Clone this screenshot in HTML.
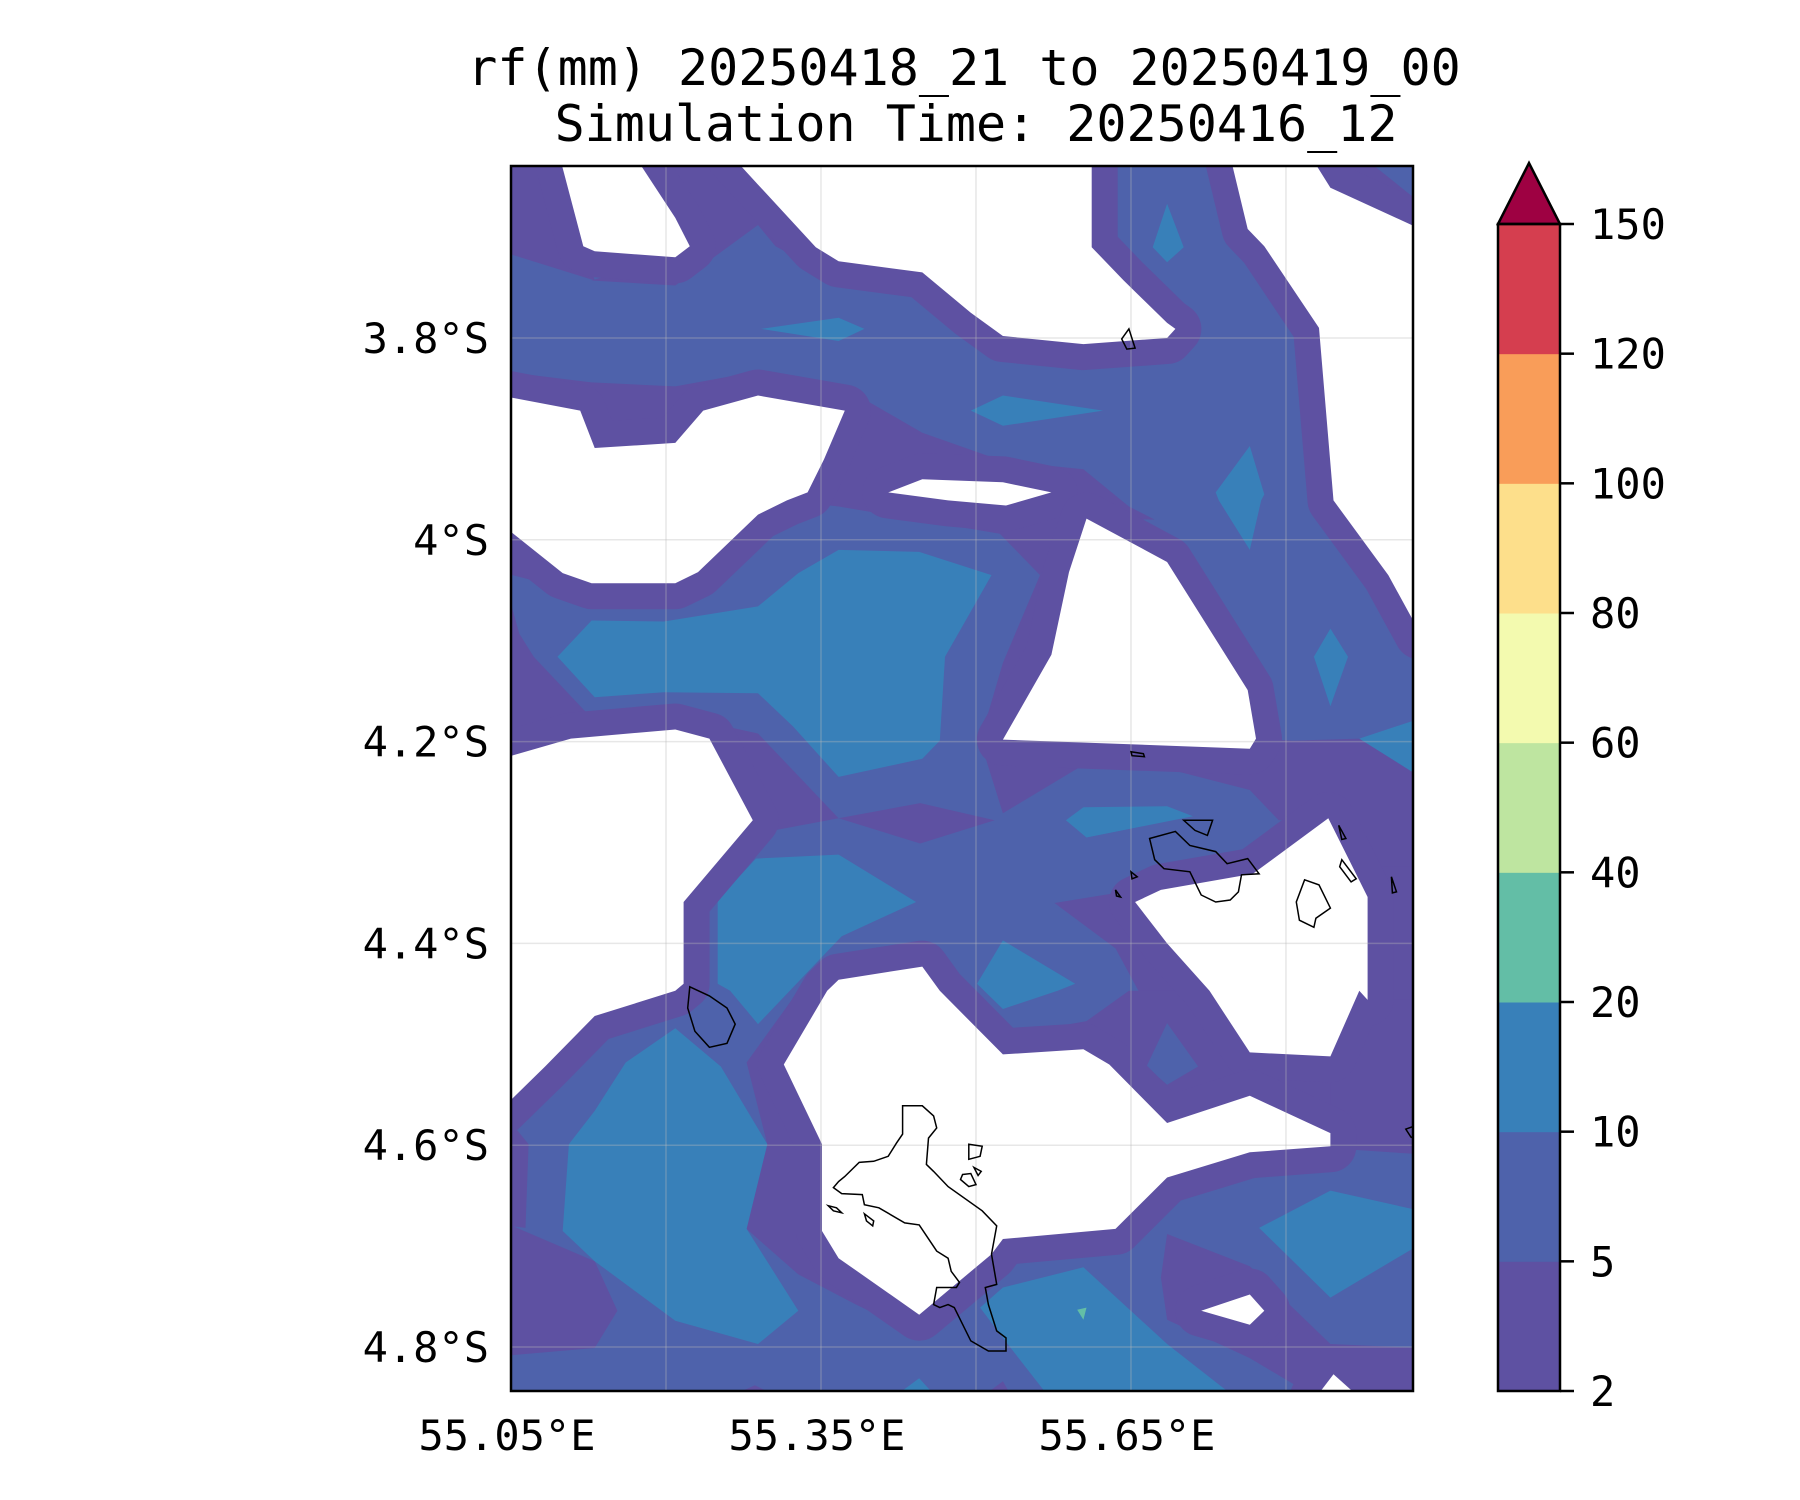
<!DOCTYPE html>
<html><head><meta charset="utf-8"><title>rf(mm) rainfall map</title>
<style>
html,body{margin:0;padding:0;background:#fff;}
svg{display:block;}
text{font-family:"DejaVu Sans Mono","Liberation Mono",monospace;fill:#000;}
</style></head>
<body>
<svg id="chart" xmlns="http://www.w3.org/2000/svg" width="1800" height="1500" viewBox="0 0 1800 1500">
  <rect x="0" y="0" width="1800" height="1500" fill="#fff"/>
  <text x="964" y="85" font-size="50" text-anchor="middle">rf(mm) 20250418_21 to 20250419_00</text>
  <text x="976" y="141" font-size="50" text-anchor="middle">Simulation Time: 20250416_12</text>
  <defs><clipPath id="plotclip"><rect x="511" y="166" width="902" height="1225"/></clipPath></defs>
  <g id="plot" clip-path="url(#plotclip)"></g>
  <rect x="511" y="166" width="902" height="1225" fill="none" stroke="#000" stroke-width="2.5"/>
  <g id="axes"></g>
  <g id="cbar"></g>
</svg>
<script>
// ---------- data ----------
const lonTicks = [55.05, 55.35, 55.65];
const lonTickLabels = ["55.05°E", "55.35°E", "55.65°E"];
const lonGrid = [55.05, 55.20, 55.35, 55.50, 55.65, 55.80];
const latTicks = [-3.8, -4.0, -4.2, -4.4, -4.6, -4.8];
const latTickLabels = ["3.8°S", "4°S", "4.2°S", "4.4°S", "4.6°S", "4.8°S"];
const cbLevels = [2, 5, 10, 20, 40, 60, 80, 100, 120, 150];
const cbColors = ["#5e51a2", "#4e62ab", "#3880b9", "#63bea6", "#bee5a0", "#f3faaf", "#fddf8b", "#f99d59", "#d53e4f"];
const cbExtendColor = "#9e0142";
const levelColors = ["#5e51a2", "#4e62ab", "#3880b9", "#63bea6"];

// 2-5 mm regions (lon, lat)
const level1Patches = [
 [[55.04,-3.62],[55.100,-3.62],[55.122,-3.712],[55.131,-3.743],[55.04,-3.714]],
 [[55.170,-3.62],[55.264,-3.62],[55.289,-3.648],[55.345,-3.710],[55.367,-3.743],[55.306,-3.709],[55.289,-3.688],[55.209,-3.748],[55.128,-3.743],[55.217,-3.715]],
 [[55.04,-3.833],[55.128,-3.844],[55.209,-3.848],[55.289,-3.833],[55.367,-3.846],[55.448,-3.894],[55.526,-3.922],[55.604,-3.930],[55.648,-3.967],[55.673,-3.980],[55.607,-3.979],[55.562,-4.035],[55.523,-3.994],[55.367,-3.967],[55.317,-3.961],[55.289,-3.975],[55.231,-4.032],[55.209,-4.056],[55.131,-4.056],[55.04,-4.032]],
 [[55.824,-3.62],[55.874,-3.62],[55.93,-3.666],[55.93,-3.692],[55.843,-3.651]],
 [[55.04,-4.027],[55.058,-4.093],[55.072,-4.116],[55.131,-4.180],[55.209,-4.174],[55.289,-4.192],[55.367,-4.276],[55.289,-4.291],[55.234,-4.350],[55.217,-4.359],[55.04,-4.359]],
 [[55.367,-4.276],[55.446,-4.261],[55.518,-4.278],[55.446,-4.301]],
 [[55.562,-4.035],[55.526,-4.122],[55.504,-4.199],[55.526,-4.271],[55.601,-4.225],[55.685,-4.227],[55.765,-4.248],[55.793,-4.278],[55.841,-4.276],[55.879,-4.354],[55.93,-4.357],[55.93,-4.235],[55.871,-4.197],[55.807,-4.199],[55.771,-4.197],[55.763,-4.149],[55.685,-4.022],[55.607,-3.979]],
 [[55.576,-4.360],[55.654,-4.347],[55.685,-4.400],[55.726,-4.456],[55.662,-4.456],[55.635,-4.405]],
 [[55.04,-4.675],[55.131,-4.715],[55.153,-4.764],[55.131,-4.801],[55.04,-4.809]],
 [[55.04,-4.565],[55.067,-4.599],[55.064,-4.682],[55.04,-4.679]],
 [[55.356,-4.447],[55.314,-4.520],[55.351,-4.599],[55.351,-4.685],[55.367,-4.712],[55.445,-4.768],[55.451,-4.791],[55.384,-4.758],[55.328,-4.728],[55.278,-4.683],[55.298,-4.599],[55.278,-4.518],[55.328,-4.447]],
 [[55.685,-4.688],[55.765,-4.720],[55.843,-4.797],[55.93,-4.801],[55.93,-4.85],[55.829,-4.85],[55.765,-4.811],[55.685,-4.773],[55.679,-4.731]],
 [[55.841,-4.447],[55.93,-4.447],[55.93,-4.609],[55.843,-4.603]],
 [[55.526,-4.492],[55.607,-4.477],[55.648,-4.447],[55.726,-4.447],[55.765,-4.508],[55.843,-4.512],[55.843,-4.589],[55.765,-4.551],[55.685,-4.578],[55.629,-4.520],[55.604,-4.505],[55.526,-4.510]],
 [[55.879,-4.324],[55.93,-4.324],[55.93,-4.456],[55.879,-4.456]],
 [[55.26,-4.85],[55.286,-4.838],[55.31,-4.85]],
 [[55.505,-4.85],[55.526,-4.834],[55.535,-4.85]]
];
// 5-10 mm regions drawn over 2-5 regions
const level2Patches = [
 [[55.665,-4.522],[55.685,-4.479],[55.715,-4.522],[55.685,-4.540]]
];
// 10-20 mm regions
const level3Patches = [
 [[55.292,-3.791],[55.367,-3.780],[55.392,-3.791],[55.367,-3.803]],
 [[55.495,-3.872],[55.526,-3.857],[55.623,-3.872],[55.526,-3.887]],
 [[55.671,-3.710],[55.685,-3.667],[55.701,-3.710],[55.685,-3.725]],
 [[55.732,-3.953],[55.765,-3.907],[55.779,-3.955],[55.776,-3.961],[55.765,-4.010],[55.735,-3.961]],
 [[55.095,-4.116],[55.128,-4.080],[55.198,-4.081],[55.289,-4.066],[55.328,-4.033],[55.367,-4.010],[55.445,-4.012],[55.515,-4.035],[55.470,-4.116],[55.465,-4.199],[55.448,-4.217],[55.367,-4.235],[55.323,-4.185],[55.289,-4.152],[55.198,-4.151],[55.131,-4.156]],
 [[55.250,-4.357],[55.287,-4.316],[55.367,-4.312],[55.442,-4.359],[55.370,-4.393],[55.289,-4.480],[55.262,-4.447],[55.250,-4.440]],
 [[55.587,-4.278],[55.604,-4.265],[55.685,-4.264],[55.710,-4.274],[55.607,-4.295]],
 [[55.526,-4.397],[55.596,-4.440],[55.579,-4.447],[55.526,-4.465],[55.501,-4.440]],
 [[55.827,-4.116],[55.843,-4.088],[55.860,-4.116],[55.843,-4.165]],
 [[55.871,-4.197],[55.93,-4.177],[55.93,-4.235]],
 [[55.100,-4.685],[55.106,-4.599],[55.131,-4.566],[55.161,-4.518],[55.209,-4.484],[55.253,-4.522],[55.298,-4.599],[55.278,-4.683],[55.328,-4.764],[55.289,-4.797],[55.209,-4.774],[55.131,-4.715]],
 [[55.504,-4.761],[55.526,-4.741],[55.604,-4.721],[55.685,-4.797],[55.751,-4.85],[55.571,-4.85],[55.526,-4.791]],
 [[55.774,-4.682],[55.843,-4.645],[55.93,-4.665],[55.93,-4.698],[55.843,-4.751]],
 [[55.42,-4.85],[55.445,-4.831],[55.462,-4.85]]
];
// 20-40 mm regions
const level4Patches = [
 [[55.598,-4.763],[55.607,-4.761],[55.604,-4.773]]
];
// below 2 mm (blank) regions
const dryHoles = [
 [[55.097,-3.62],[55.120,-3.709],[55.131,-3.714],[55.209,-3.720],[55.223,-3.709],[55.209,-3.681],[55.170,-3.62]],
 [[55.264,-3.62],[55.289,-3.648],[55.345,-3.710],[55.367,-3.724],[55.448,-3.735],[55.495,-3.775],[55.526,-3.798],[55.604,-3.806],[55.685,-3.800],[55.693,-3.791],[55.685,-3.785],[55.643,-3.743],[55.612,-3.710],[55.612,-3.62]],
 [[55.746,-3.62],[55.824,-3.62],[55.843,-3.651],[55.93,-3.692],[55.93,-4.093],[55.899,-4.035],[55.846,-3.961],[55.832,-3.790],[55.779,-3.709],[55.763,-3.692]],
 [[55.04,-3.857],[55.117,-3.872],[55.131,-3.909],[55.209,-3.904],[55.236,-3.872],[55.289,-3.857],[55.373,-3.872],[55.353,-3.920],[55.337,-3.953],[55.317,-3.961],[55.289,-3.975],[55.231,-4.032],[55.209,-4.043],[55.128,-4.043],[55.100,-4.033],[55.04,-3.984]],
 [[55.415,-3.953],[55.448,-3.940],[55.526,-3.943],[55.573,-3.953],[55.529,-3.966],[55.473,-3.961]],
 [[55.607,-3.979],[55.685,-4.022],[55.763,-4.149],[55.771,-4.197],[55.765,-4.207],[55.526,-4.198],[55.573,-4.114],[55.590,-4.032]],
 [[55.04,-4.217],[55.108,-4.197],[55.209,-4.188],[55.242,-4.197],[55.284,-4.278],[55.217,-4.359],[55.217,-4.440],[55.209,-4.447],[55.131,-4.472],[55.083,-4.522],[55.04,-4.565]],
 [[55.654,-4.359],[55.679,-4.347],[55.768,-4.331],[55.841,-4.276],[55.879,-4.354],[55.879,-4.456],[55.871,-4.447],[55.843,-4.512],[55.765,-4.508],[55.726,-4.447],[55.685,-4.400]],
 [[55.367,-4.436],[55.448,-4.423],[55.465,-4.447],[55.526,-4.510],[55.604,-4.505],[55.629,-4.520],[55.685,-4.578],[55.765,-4.551],[55.843,-4.588],[55.843,-4.601],[55.765,-4.607],[55.685,-4.632],[55.635,-4.683],[55.526,-4.693],[55.515,-4.708],[55.445,-4.768],[55.367,-4.712],[55.351,-4.685],[55.351,-4.599],[55.314,-4.520],[55.356,-4.447]],
 [[55.718,-4.764],[55.765,-4.748],[55.779,-4.764],[55.765,-4.778]],
 [[55.829,-4.85],[55.846,-4.827],[55.871,-4.85]]
];
const coastlines = [
 [[55.429,-4.561],[55.448,-4.561],[55.459,-4.571],[55.462,-4.583],[55.454,-4.593],[55.452,-4.619],[55.459,-4.626],[55.473,-4.641],[55.506,-4.665],[55.520,-4.680],[55.515,-4.708],[55.520,-4.738],[55.509,-4.741],[55.512,-4.758],[55.520,-4.784],[55.529,-4.791],[55.529,-4.804],[55.512,-4.804],[55.495,-4.794],[55.479,-4.761],[55.473,-4.758],[55.465,-4.761],[55.459,-4.758],[55.462,-4.741],[55.481,-4.741],[55.484,-4.736],[55.476,-4.725],[55.473,-4.712],[55.462,-4.705],[55.445,-4.679],[55.431,-4.677],[55.406,-4.662],[55.392,-4.659],[55.390,-4.649],[55.370,-4.648],[55.362,-4.642],[55.367,-4.636],[55.373,-4.631],[55.387,-4.617],[55.401,-4.616],[55.415,-4.611],[55.423,-4.598],[55.429,-4.589]],
 [[55.493,-4.599],[55.506,-4.601],[55.504,-4.611],[55.493,-4.614]],
 [[55.487,-4.629],[55.495,-4.628],[55.500,-4.639],[55.493,-4.641],[55.485,-4.634]],
 [[55.498,-4.622],[55.505,-4.626],[55.502,-4.630]],
 [[55.357,-4.660],[55.365,-4.662],[55.370,-4.667],[55.362,-4.665]],
 [[55.392,-4.668],[55.401,-4.675],[55.400,-4.680],[55.394,-4.675]],
 [[55.223,-4.443],[55.242,-4.452],[55.259,-4.464],[55.267,-4.480],[55.259,-4.499],[55.242,-4.503],[55.228,-4.487],[55.221,-4.464]],
 [[55.668,-4.296],[55.693,-4.289],[55.707,-4.303],[55.732,-4.309],[55.743,-4.321],[55.763,-4.316],[55.774,-4.331],[55.757,-4.332],[55.754,-4.349],[55.746,-4.357],[55.732,-4.359],[55.718,-4.352],[55.707,-4.329],[55.682,-4.326],[55.673,-4.317]],
 [[55.701,-4.278],[55.729,-4.278],[55.724,-4.293],[55.712,-4.288]],
 [[55.851,-4.283],[55.858,-4.296],[55.854,-4.297]],
 [[55.854,-4.317],[55.868,-4.336],[55.863,-4.339],[55.852,-4.324]],
 [[55.818,-4.337],[55.832,-4.342],[55.843,-4.365],[55.829,-4.375],[55.827,-4.384],[55.813,-4.377],[55.810,-4.359]],
 [[55.902,-4.334],[55.907,-4.349],[55.903,-4.350]],
 [[55.650,-4.329],[55.656,-4.334],[55.651,-4.336]],
 [[55.635,-4.347],[55.640,-4.354],[55.636,-4.353]],
 [[55.650,-4.210],[55.662,-4.212],[55.663,-4.215],[55.651,-4.214]],
 [[55.93,-4.579],[55.916,-4.584],[55.921,-4.592],[55.93,-4.596]],
 [[55.648,-3.791],[55.654,-3.810],[55.646,-3.811],[55.641,-3.801]]
];

// ---------- axis functions ----------
const PX0 = 511, PX1 = 1413, PY0 = 166, PY1 = 1391;
function xOf(lon){ return PX0 + (lon - 55.05) * 1033.3; }
function yOf(lat){ return 338 + (-lat - 3.8) * 1009; }
const CB_X = 1498, CB_W = 62, CB_TOP = 224, CB_BOT = 1391;
function cbY(i){ return CB_BOT - i * (CB_BOT - CB_TOP) / (cbLevels.length - 1); }

const NS = "http://www.w3.org/2000/svg";
function mk(tag, parent){ const e = document.createElementNS(NS, tag); parent.appendChild(e); return e; }
function pts(poly){ return poly.map(p => xOf(p[0]).toFixed(1) + "," + yOf(p[1]).toFixed(1)).join(" "); }

const plot = document.getElementById("plot");
const base = mk("rect", plot);
base.setAttribute("x", PX0); base.setAttribute("y", PY0);
base.setAttribute("width", PX1 - PX0); base.setAttribute("height", PY1 - PY0);
base.setAttribute("fill", levelColors[1]);



level1Patches.forEach(function(poly){
  const e = mk("polygon", plot);
  e.setAttribute("points", pts(poly)); e.setAttribute("fill", levelColors[0]);
  
  
});
level2Patches.forEach(function(poly){
  const e = mk("polygon", plot);
  e.setAttribute("points", pts(poly)); e.setAttribute("fill", levelColors[1]);
  
  
});
level3Patches.forEach(function(poly){
  const e = mk("polygon", plot);
  e.setAttribute("points", pts(poly)); e.setAttribute("fill", levelColors[2]);
  
  
});
level4Patches.forEach(function(poly){
  const e = mk("polygon", plot);
  e.setAttribute("points", pts(poly)); e.setAttribute("fill", levelColors[3]);
  
  
});
dryHoles.forEach(function(poly){
  const e = mk("polygon", plot);
  e.setAttribute("points", pts(poly)); e.setAttribute("fill", "none");
  e.setAttribute("stroke", levelColors[0]); e.setAttribute("stroke-width", "52"); e.setAttribute("stroke-linejoin", "round");
  
  
});
dryHoles.forEach(function(poly){
  const e = mk("polygon", plot);
  e.setAttribute("points", pts(poly)); e.setAttribute("fill", "#fff");
  
  
});
lonGrid.forEach(function(lon){
  const e = mk("line", plot);
  e.setAttribute("x1", xOf(lon)); e.setAttribute("x2", xOf(lon)); e.setAttribute("y1", PY0); e.setAttribute("y2", PY1);
  e.setAttribute("stroke", "#bbb"); e.setAttribute("stroke-opacity", "0.35"); e.setAttribute("stroke-width", "1.5");
  
  
});
latTicks.forEach(function(lat){
  const e = mk("line", plot);
  e.setAttribute("x1", PX0); e.setAttribute("x2", PX1); e.setAttribute("y1", yOf(lat)); e.setAttribute("y2", yOf(lat));
  e.setAttribute("stroke", "#bbb"); e.setAttribute("stroke-opacity", "0.35"); e.setAttribute("stroke-width", "1.5");
  
  
});
coastlines.forEach(function(poly){
  const e = mk("polygon", plot);
  e.setAttribute("points", pts(poly)); e.setAttribute("fill", "none");
  e.setAttribute("stroke", "#000"); e.setAttribute("stroke-width", "1.5");
  
  
});

const axes = document.getElementById("axes");
latTicks.forEach(function(lat, i){
  const t = mk("text", axes);
  t.setAttribute("x", 489); t.setAttribute("y", yOf(lat) + 15);
  t.setAttribute("font-size", "42"); t.setAttribute("text-anchor", "end");
  t.textContent = latTickLabels[i];
  
  
});
lonTicks.forEach(function(lon, i){
  const t = mk("text", axes);
  t.setAttribute("x", xOf(lon) - 4); t.setAttribute("y", 1450);
  t.setAttribute("font-size", "42"); t.setAttribute("text-anchor", "middle");
  t.textContent = lonTickLabels[i];
  
  
});

const cb = document.getElementById("cbar");
cbColors.forEach(function(c, i){
  const r = mk("rect", cb);
  r.setAttribute("x", CB_X); r.setAttribute("y", cbY(i + 1));
  r.setAttribute("width", CB_W); r.setAttribute("height", cbY(i) - cbY(i + 1) + 0.5);
  r.setAttribute("fill", c);
  
  
});
const tri = mk("polygon", cb);
tri.setAttribute("points", CB_X + "," + CB_TOP + " " + (CB_X + CB_W / 2) + "," + (CB_TOP - 61) + " " + (CB_X + CB_W) + "," + CB_TOP);
tri.setAttribute("fill", cbExtendColor); tri.setAttribute("stroke", "#000"); tri.setAttribute("stroke-width", "2.5"); tri.setAttribute("stroke-linejoin", "miter");


const cbf = mk("rect", cb);
cbf.setAttribute("x", CB_X); cbf.setAttribute("y", CB_TOP); cbf.setAttribute("width", CB_W); cbf.setAttribute("height", CB_BOT - CB_TOP);
cbf.setAttribute("fill", "none"); cbf.setAttribute("stroke", "#000"); cbf.setAttribute("stroke-width", "2.5");


cbLevels.forEach(function(v, i){
  const y = cbY(i);
  const l = mk("line", cb);
  l.setAttribute("x1", CB_X + CB_W); l.setAttribute("x2", CB_X + CB_W + 14); l.setAttribute("y1", y); l.setAttribute("y2", y);
  l.setAttribute("stroke", "#000"); l.setAttribute("stroke-width", "2.5");
  
  
  const t = mk("text", cb);
  t.setAttribute("x", CB_X + CB_W + 30); t.setAttribute("y", y + 15);
  t.setAttribute("font-size", "42");
  t.textContent = String(v);
  
  
});
</script>
</body></html>
